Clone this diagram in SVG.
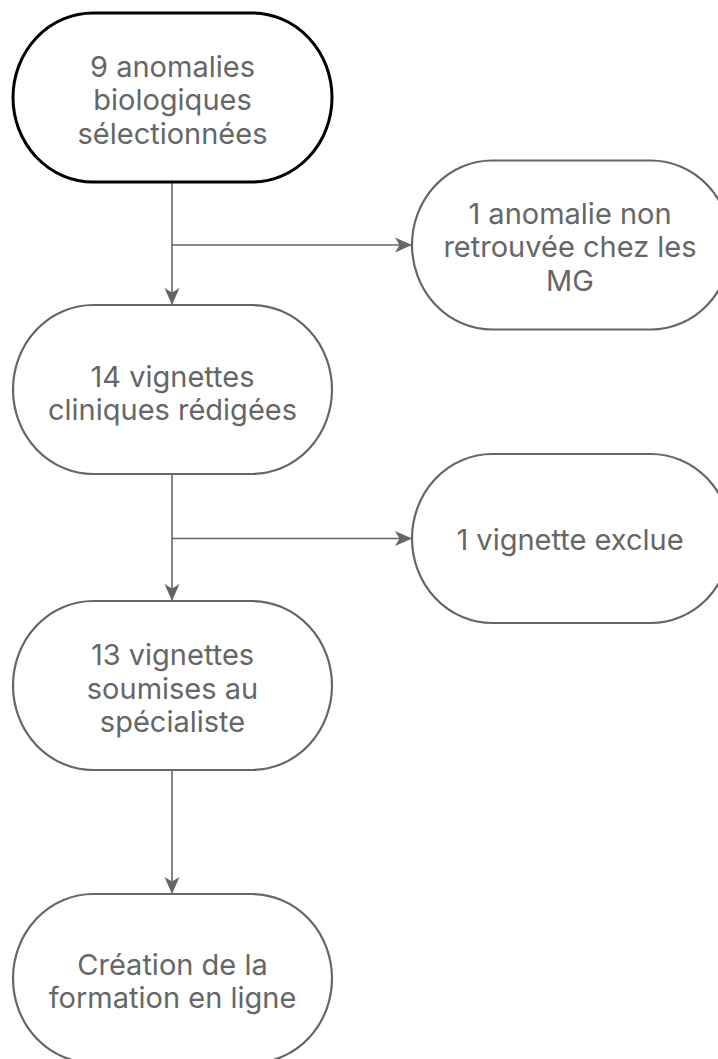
<svg xmlns="http://www.w3.org/2000/svg" width="718" height="1059" viewBox="0 0 718 1059">
  <defs>
    <style>
      .node { fill: #ffffff; stroke: #666666; stroke-width: 2.2; }
      .start { stroke: #000000; stroke-width: 3; }
      .label { font-family: Inter, "Liberation Sans", sans-serif; font-size: 29px; fill: #666666; text-anchor: middle; }
      .edge { fill: none; stroke: #666666; stroke-width: 1.6; }
    </style>
    <marker id="arrow" markerUnits="userSpaceOnUse" markerWidth="18" markerHeight="18" viewBox="0 0 18 18" refX="17" refY="9" orient="auto">
      <path d="M0,1.5 L17,9 L0,16.5 L4.5,9 Z" fill="#666666" stroke="none"/>
    </marker>
  </defs>
  <rect width="718" height="1059" fill="#ffffff"/>

  <g id="connectors">
    <path class="edge" d="M172,182 L172,305" marker-end="url(#arrow)"/>
    <path class="edge" d="M172,245 L412,245" marker-end="url(#arrow)"/>
    <path class="edge" d="M172,474 L172,601" marker-end="url(#arrow)"/>
    <path class="edge" d="M172,538.5 L412,538.5" marker-end="url(#arrow)"/>
    <path class="edge" d="M172,770 L172,894" marker-end="url(#arrow)"/>
  </g>

  <g id="node-anomalies">
    <rect class="node start" x="13" y="13" width="319" height="169" rx="80" ry="84.5"/>
    <text class="label" x="172.5" y="76.5">9 anomalies</text>
    <text class="label" x="172.5" y="110">biologiques</text>
    <text class="label" x="172.5" y="143.5">sélectionnées</text>
  </g>

  <g id="node-non-retrouvee">
    <rect class="node" x="412" y="160.5" width="319" height="169" rx="80" ry="84.5"/>
    <text class="label" x="570" y="223.5">1 anomalie non</text>
    <text class="label" x="570" y="257">retrouvée chez les</text>
    <text class="label" x="570" y="290.5">MG</text>
  </g>

  <g id="node-vignettes-redigees">
    <rect class="node" x="13" y="305" width="319" height="169" rx="80" ry="84.5"/>
    <text class="label" x="172.5" y="387">14 vignettes</text>
    <text class="label" x="172.5" y="420">cliniques rédigées</text>
  </g>

  <g id="node-vignette-exclue">
    <rect class="node" x="412" y="454" width="319" height="169" rx="80" ry="84.5"/>
    <text class="label" x="570" y="549.5">1 vignette exclue</text>
  </g>

  <g id="node-vignettes-soumises">
    <rect class="node" x="13" y="601" width="319" height="169" rx="80" ry="84.5"/>
    <text class="label" x="172.5" y="665">13 vignettes</text>
    <text class="label" x="172.5" y="698.5">soumises au</text>
    <text class="label" x="172.5" y="731.5">spécialiste</text>
  </g>

  <g id="node-formation">
    <rect class="node" x="13" y="894" width="319" height="169" rx="80" ry="84.5"/>
    <text class="label" x="172.5" y="974.5">Création de la</text>
    <text class="label" x="172.5" y="1008">formation en ligne</text>
  </g>
</svg>
